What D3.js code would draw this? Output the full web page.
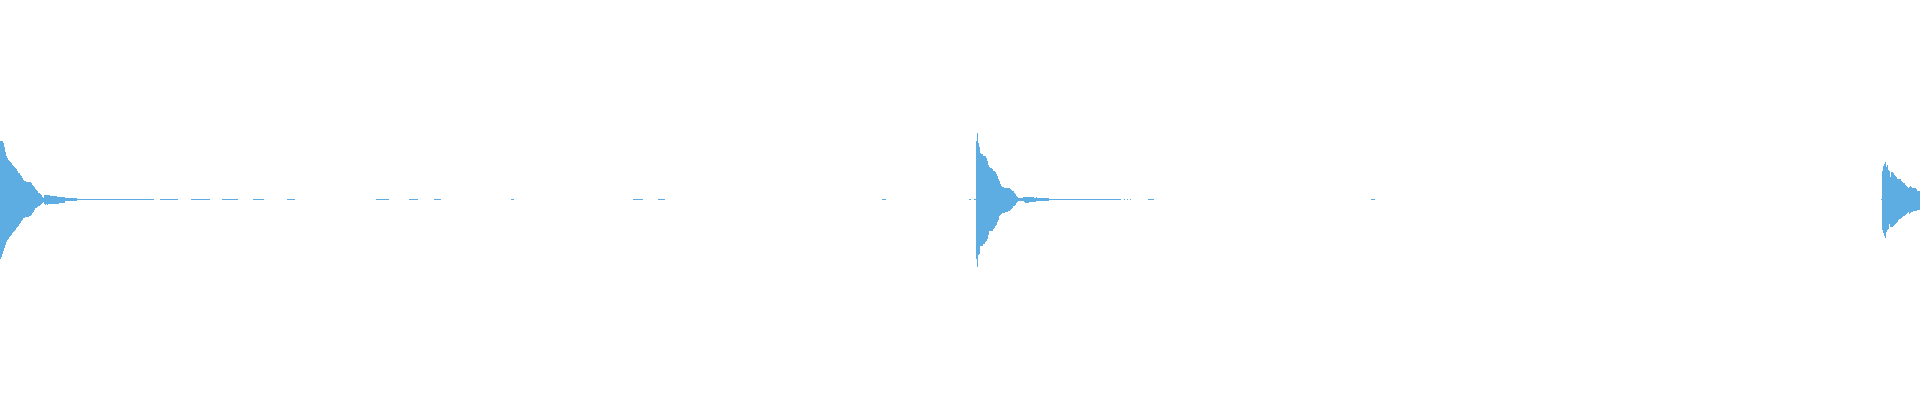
<!DOCTYPE html>
<html>
<head>
<meta charset="utf-8">
<script src="https://cdn.jsdelivr.net/npm/d3@7"></script>
<style>
  html, body { margin: 0; padding: 0; background: #fff; overflow: hidden; }
</style>
</head>
<body>
<script>
// waveform peaks, one value per column (amplitude, full scale = 1)
var burst1Start = 0;
var burst1Max = [.295,.295,.295,.285,.265,.24,.22,.21,.2,.195,
  .19,.185,.175,.17,.165,.16,.155,.145,.135,.135,
  .125,.12,.11,.1,.095,.095,.09,.09,.09,.09,
  .09,.085,.075,.07,.065,.055,.05,.045,.035,.035,
  .03,.025,.015,.01,.025,.025,.025,.025,.025,.025,
  .02,.02,.02,.02,.02,.02,.02,.015,.015,.015,
  .015,.015,.015,.015,.015,.01,.01,.01,.01,.01,
  .01,.01,.01,.01,.01,.01,.01,.005,.005,.004,
  .004,.004,.004,.004,.004,.004,.004,.004,.004,.004,
  .004,.004,.004,.004,.004,.004,.004,.004,.004,.004,
  .004,.004,.004];
var burst1Min = [-.3,-.29,-.275,-.26,-.245,-.23,-.215,-.205,-.2,-.19,
  -.185,-.18,-.17,-.165,-.16,-.155,-.145,-.14,-.135,-.125,
  -.12,-.11,-.105,-.095,-.095,-.09,-.09,-.09,-.09,-.085,
  -.085,-.08,-.07,-.065,-.055,-.045,-.045,-.04,-.035,-.035,
  -.03,-.025,-.02,-.015,-.025,-.03,-.025,-.03,-.025,-.025,
  -.025,-.025,-.025,-.025,-.025,-.025,-.025,-.025,-.025,-.02,
  -.02,-.02,-.02,-.02,-.02,-.01,-.01,-.01,-.01,-.01,
  -.01,-.01,-.01,-.01,-.01,-.01,-.01,-.005,-.005,-.004,
  -.004,-.004,-.004,-.004,-.004,-.004,-.004,-.004,-.004,-.004,
  -.004,-.004,-.004,-.004,-.004,-.004,-.004,-.004,-.004,-.004,
  -.004,-.004,-.004];

var burst2Start = 976;
var burst2Max = [.295,.335,.285,.265,.235,.23,.23,.22,.22,.22,
  .21,.195,.175,.165,.16,.16,.155,.145,.145,.14,
  .13,.12,.105,.095,.08,.07,.065,.065,.06,.06,
  .06,.06,.06,.06,.055,.05,.045,.045,.035,.03,
  .02,.015,.01,.01,.01,.01,.01,.015,.015,.015,
  .015,.015,.015,.015,.015,.015,.015,.015,.01,.01,
  .015,.01,.01,.0075,.0075,.0075,.0075,.0075,.0075,.0075,
  .0075,.0075,.0075,.005,.005,.005,.005,.005,.005,.005,
  .005,.005,.005,.005,.005,.004];
var burst2Min = [-.3,-.34,-.28,-.275,-.235,-.235,-.235,-.225,-.225,-.215,
  -.21,-.2,-.18,-.16,-.16,-.16,-.16,-.15,-.145,-.135,
  -.13,-.115,-.105,-.085,-.08,-.075,-.07,-.07,-.07,-.065,
  -.065,-.065,-.06,-.06,-.055,-.05,-.045,-.035,-.035,-.03,
  -.02,-.015,-.01,-.01,-.01,-.01,-.01,-.01,-.015,-.02,
  -.02,-.02,-.02,-.015,-.015,-.015,-.015,-.015,-.015,-.015,
  -.01,-.01,-.01,-.01,-.01,-.01,-.01,-.01,-.01,-.01,
  -.01,-.01,-.01,-.005,-.005,-.005,-.005,-.005,-.005,-.005,
  -.005,-.005,-.005,-.005,-.005,-.004];

var burst3Start = 1882;
var burst3Max = [.145,.17,.18,.19,.165,.175,.15,.145,.115,.14,
  .14,.135,.125,.12,.115,.105,.105,.105,.105,.095,
  .09,.085,.085,.075,.07,.065,.06,.065,.07,.065,
  .06,.06,.06,.06,.055,.045,.045,.045];
var burst3Min = [-.155,-.17,-.185,-.195,-.165,-.155,-.15,-.125,-.14,-.14,
  -.14,-.135,-.13,-.125,-.12,-.115,-.105,-.1,-.1,-.095,
  -.09,-.085,-.085,-.08,-.075,-.07,-.065,-.075,-.07,-.065,
  -.065,-.06,-.06,-.06,-.06,-.055,-.055,-.055];

// near-silent runs [first column, last column]
var quietRuns = [[103,152],[153,153],[160,177],[191,209],[222,237],[253,263],[287,294],
  [376,388],[409,417],[434,440],[511,513],[633,642],[658,664],[882,885],
  [969,970],[974,975],[1062,1120],[1124,1124],[1127,1127],[1130,1130],
  [1148,1153],[1371,1374],[1881,1881]];

var w = 1920;
var h = 400;
var color = "#5dade2";

var svg = d3.select("body")
  .append("svg")
  .attr("width", w)
  .attr("height", h);

var x = d3.scaleLinear().domain([0, w]).range([0, w]);
var y = d3.scaleLinear().domain([-1, 1]).range([399, 0]);

// build one record per column
var cols = [];
[[burst1Start, burst1Max, burst1Min],
 [burst2Start, burst2Max, burst2Min],
 [burst3Start, burst3Max, burst3Min]].forEach(function(b) {
  b[1].forEach(function(v, i) {
    cols.push({ c: b[0] + i, max: v, min: b[2][i] });
  });
});
quietRuns.forEach(function(r) {
  for (var c = r[0]; c <= r[1]; c++) cols.push({ c: c, max: 0, min: 0 });
});

svg.append("g")
  .attr("shape-rendering", "crispEdges")
  .selectAll("rect")
  .data(cols)
  .enter()
  .append("rect")
  .attr("x", function(d) { return x(d.c); })
  .attr("width", function(d) { return x(d.c + 1) - x(d.c); })
  .attr("y", function(d) {
    var hh = y(d.min) - y(d.max);
    return hh < 1 ? y(0) - 0.5 : y(d.max);
  })
  .attr("height", function(d) {
    return Math.max(1, y(d.min) - y(d.max));
  })
  .attr("fill", color);
</script>
</body>
</html>
